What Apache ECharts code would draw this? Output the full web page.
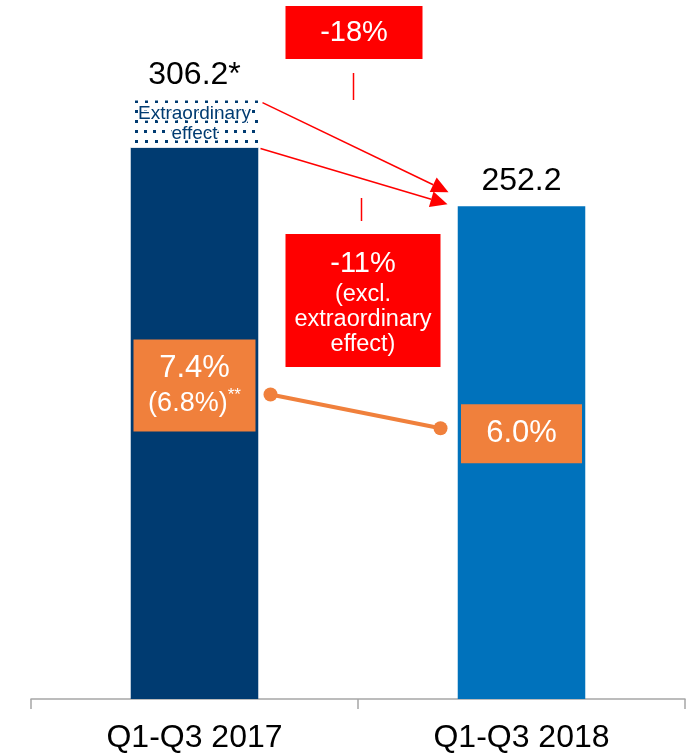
<!DOCTYPE html>
<html><head><meta charset="utf-8">
<script src="https://cdn.jsdelivr.net/npm/echarts@6/dist/echarts.min.js"></script>
<style>html,body{margin:0;padding:0;background:#fff}#c{width:689px;height:754px}</style>
</head><body><div id="c"></div>
<script>
// ---- data ----
const categories = ['Q1-Q3 2017', 'Q1-Q3 2018'];
const baseValues = [282.2, 252.2];
const extraordinaryValues = [24.0, 0];
const totalLabels = ['306.2*', '252.2'];
const margins = [7.4, 6.0];
const marginLabels = ['7.4%', '6.0%'];
const marginNotes = ['(6.8%)', ''];
const changeTotal = '-18%';
const changeExcl = '-11%';
const changeExclNote = ['(excl.', 'extraordinary', 'effect)'];
const extraordinaryText = 'Extraordinary\neffect';

// ---- style ----
const FONT = '"Liberation Sans", Arial, sans-serif';
const NAVY = '#003B71', BLUE = '#0072BC', ORANGE = '#F0803C', RED = '#FF0000';
const BAR_COLORS = [NAVY, BLUE];
const MBOX = [{w: 122, h: 92, dy: -9}, {w: 121, h: 59, dy: 5.5}];

const chart = echarts.init(document.getElementById('c'), null, {renderer: 'canvas'});

const option = {
  animation: false,
  textStyle: {fontFamily: FONT},
  grid: {left: 31, right: 4, top: 15, bottom: 52},
  xAxis: {
    type: 'category', data: categories,
    axisLine: {lineStyle: {color: '#A6A6A6', width: 1.5}},
    axisTick: {show: true, length: 10, lineStyle: {color: '#A6A6A6', width: 1.5}},
    axisLabel: {color: '#000', fontSize: 32, margin: 23, fontFamily: FONT}
  },
  yAxis: [
    {type: 'value', min: 0, max: 350, show: false, splitLine: {show: false}},
    {type: 'value', min: -5.2, max: 23.1, show: false, splitLine: {show: false}}
  ],
  series: [
    {
      type: 'bar', stack: 'sales', barWidth: '39%',
      data: baseValues.map((v, i) => ({value: v, itemStyle: {color: BAR_COLORS[i]}})),
      label: {show: false}
    },
    {
      type: 'bar', stack: 'sales',
      data: extraordinaryValues.map((v, i) => ({
        value: v,
        label: {show: i === 0}
      })),
      itemStyle: {
        color: '#fff',
        decal: {
          symbol: 'rect', symbolSize: 1, color: NAVY, backgroundColor: '#fff',
          dashArrayX: [[2.5, 6], [0, 4.25, 2.5, 1.75]], dashArrayY: [2.5, 7]
        }
      },
      label: {
        position: 'inside', formatter: extraordinaryText, color: NAVY,
        fontSize: 19, lineHeight: 20, fontFamily: FONT,
        textBorderColor: '#fff', textBorderWidth: 3
      }
    },
    {
      type: 'bar', stack: 'sales',
      data: totalLabels.map(() => 0),
      itemStyle: {color: 'transparent'},
      label: {
        show: true, position: 'top', distance: 9, color: '#000', fontSize: 32, fontFamily: FONT,
        formatter: p => totalLabels[p.dataIndex]
      }
    },
    {
      type: 'custom', xAxisIndex: 0, yAxisIndex: 1, z: 5,
      data: margins.map((m, i) => [i, m]),
      renderItem: (params, api) => {
        const i = params.dataIndex;
        const p = api.coord([i, margins[i]]);
        const b = MBOX[i];
        const cy = p[1] + b.dy;
        const children = [];
        children.push({type: 'rect', shape: {x: p[0] - b.w / 2, y: cy - b.h / 2, width: b.w, height: b.h}, style: {fill: ORANGE}});
        let txt = '{big|' + marginLabels[i] + '}';
        if (marginNotes[i]) txt += '\n{sm|' + marginNotes[i] + '}{sup|**}';
        children.push({
          type: 'text',
          style: {
            text: txt, x: p[0], y: cy, align: 'center', verticalAlign: 'middle', fill: '#fff',
            fontFamily: FONT,
            rich: {
              big: {fontSize: 31, lineHeight: 36, fill: '#fff', fontFamily: FONT},
              sm: {fontSize: 27, lineHeight: 34, fill: '#fff', fontFamily: FONT},
              sup: {fontSize: 17, lineHeight: 34, fill: '#fff', verticalAlign: 'top', fontFamily: FONT}
            }
          }
        });
        if (i === 0) {
          const q = api.coord([1, margins[1]]);
          const a = [p[0] + 76, p[1]];
          const e = [q[0] - 81, q[1]];
          children.push({type: 'line', shape: {x1: a[0], y1: a[1], x2: e[0], y2: e[1]}, style: {stroke: ORANGE, lineWidth: 4}});
          children.push({type: 'circle', shape: {cx: a[0], cy: a[1], r: 7}, style: {fill: ORANGE}});
          children.push({type: 'circle', shape: {cx: e[0], cy: e[1], r: 7}, style: {fill: ORANGE}});
        }
        return {type: 'group', children};
      }
    }
  ]
};
chart.setOption(option);

// ---- annotations derived from the axes ----
const px = v => chart.convertToPixel({xAxisIndex: 0, yAxisIndex: 0}, v);
const top0 = px([0, baseValues[0] + extraordinaryValues[0]]);
const base0 = px([0, baseValues[0]]);
const top1 = px([1, baseValues[1]]);
const half = 64;
const midX = (top0[0] + top1[0]) / 2;

function arrow(a, b) {
  const dx = b[0] - a[0], dy = b[1] - a[1];
  const L = Math.hypot(dx, dy), ux = dx / L, uy = dy / L;
  const hl = 17, hw = 8;
  const bx = b[0] - ux * hl, by = b[1] - uy * hl;
  return [
    {type: 'line', shape: {x1: a[0], y1: a[1], x2: bx, y2: by}, style: {stroke: RED, lineWidth: 1.5}},
    {type: 'polygon', shape: {points: [[b[0], b[1]], [bx - uy * hw, by + ux * hw], [bx + uy * hw, by - ux * hw]]}, style: {fill: RED}}
  ];
}

const g = [];
g.push(...arrow([top0[0] + half + 4, top0[1] + 2], [top1[0] - half - 9, top1[1] - 14]));
g.push(...arrow([base0[0] + half + 2, base0[1] + 1], [top1[0] - half - 10, top1[1] - 2]));
// box 1
const b1 = {cx: midX - 4, y: 6, w: 137, h: 53};
g.push({type: 'rect', shape: {x: b1.cx - b1.w / 2, y: b1.y, width: b1.w, height: b1.h}, style: {fill: RED}});
g.push({type: 'text', style: {text: changeTotal, x: b1.cx, y: b1.y + b1.h / 2, align: 'center', verticalAlign: 'middle', fill: '#fff', font: '29px ' + FONT}});
g.push({type: 'line', shape: {x1: midX - 4.5, y1: 73, x2: midX - 4.5, y2: 100}, style: {stroke: RED, lineWidth: 1.5}});
// box 2
const b2 = {cx: midX + 5, y: 234, w: 155, h: 133};
g.push({type: 'line', shape: {x1: midX + 3.5, y1: 198, x2: midX + 3.5, y2: 221}, style: {stroke: RED, lineWidth: 1.5}});
g.push({type: 'rect', shape: {x: b2.cx - b2.w / 2, y: b2.y, width: b2.w, height: b2.h}, style: {fill: RED}});
g.push({type: 'text', style: {
  text: '{big|' + changeExcl + '}\n' + changeExclNote.map(s => '{sm|' + s + '}').join('\n'),
  x: b2.cx, y: b2.y + b2.h / 2 + 1, align: 'center', verticalAlign: 'middle', fill: '#fff',
  rich: {
    big: {fontSize: 29, lineHeight: 36, fill: '#fff', fontFamily: FONT},
    sm: {fontSize: 23.5, lineHeight: 25, fill: '#fff', fontFamily: FONT}
  }
}});
chart.setOption({graphic: {elements: g.map(e => Object.assign({z: 10}, e))}});
</script>
</body></html>
